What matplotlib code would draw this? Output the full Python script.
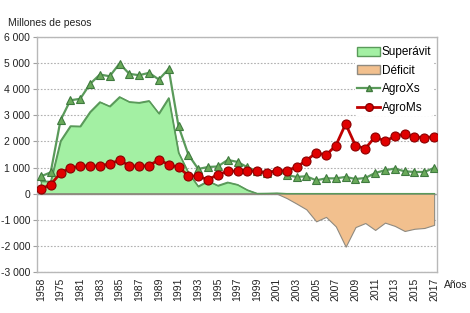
import matplotlib
matplotlib.use("Agg")
import matplotlib.pyplot as plt
import numpy as np
from matplotlib.patches import Patch
from matplotlib.lines import Line2D

years = [1958, 1970, 1975, 1980] + list(range(1981, 2018))
agro_xs = [660, 815, 2810, 3575, 3630, 4200, 4560, 4495, 4980, 4585, 4535, 4625, 4370, 4775,
           2580, 1495, 945, 1020, 1040, 1290, 1215, 1010, 860, 800, 900, 710, 640, 665, 510,
           585, 585, 640, 560, 600, 790, 895, 960, 855, 830, 830, 985]
agro_ms = [180, 345, 790, 985, 1050, 1070, 1050, 1150, 1275, 1070, 1050, 1070, 1300, 1110,
           1010, 690, 665, 535, 730, 855, 870, 870, 855, 790, 880, 880, 1020, 1265, 1570,
           1475, 1840, 2670, 1840, 1725, 2180, 2005, 2195, 2285, 2175, 2145, 2180]
balance = [480, 470, 2020, 2590, 2580, 3130, 3510, 3345, 3705, 3515, 3485, 3555, 3070, 3665,
           1570, 805, 280, 485, 310, 435, 345, 140, 5, 10, 20, -170, -380, -600, -1060,
           -890, -1255, -2030, -1280, -1125, -1390, -1110, -1235, -1430, -1345, -1315, -1195]
y_ticks = [6000, 5000, 4000, 3000, 2000, 1000, 0, -1000, -2000, -3000]

plt.rcParams['font.family'] = ['Liberation Sans', 'DejaVu Sans']

x = np.arange(len(years))
bal = np.array(balance, dtype=float)
sup = np.clip(bal, 0, None)
def_ = np.clip(bal, None, 0)

fig = plt.figure(figsize=(4.7, 3.13), dpi=100)
ax = fig.add_axes([0.079, 0.131, 0.851, 0.751])

ax.fill_between(x, 0, sup, facecolor='#a3f0a3', edgecolor='#5a9a5a', linewidth=1.0, zorder=2)
ax.fill_between(x, 0, def_, facecolor='#f2c08e', edgecolor='#8f8a80', linewidth=0.8, zorder=2)
ax.plot(x, sup, color='#5a9a5a', lw=1.0, zorder=2.5)

ax.plot(x, agro_xs, color='#5a9a5a', lw=1.6, marker='^', markersize=6,
        markerfacecolor='#6aaa5a', markeredgecolor='#3f7a3f', markeredgewidth=0.8, zorder=3)
ax.plot(x, agro_ms, color='#c00000', lw=2.0, marker='o', markersize=6.5,
        markerfacecolor='#e00000', markeredgecolor='#8b0000', markeredgewidth=0.8, zorder=4)

ax.axhline(0, color='#a0a0a0', lw=1.0, zorder=1.5)
ax.set_ylim(-3000, 6000)
ax.set_xlim(-0.38, 40.3)
ax.set_yticks(y_ticks)
ax.set_yticklabels([f"{v:,}".replace(",", " ") for v in y_ticks], fontsize=7.5, color='#222222')
ax.yaxis.grid(True, linestyle=(0, (1.5, 1.5)), color='#b0b0b0', lw=0.8, zorder=0)
ax.set_axisbelow(True)

ax.set_xticks(x[::2])
ax.set_xticklabels([str(years[i]) for i in range(0, len(years), 2)], rotation=90,
                   fontsize=7.5, color='#222222')
ax.tick_params(axis='x', length=0, pad=4)
ax.tick_params(axis='y', length=3, color='#a0a0a0', pad=2)
for s in ax.spines.values():
    s.set_color('#b8b8b8')
    s.set_linewidth(1.0)

handles = [Patch(facecolor='#a3f0a3', edgecolor='#5a9a5a', label='Superávit'),
           Patch(facecolor='#f2c08e', edgecolor='#8f8a80', label='Déficit'),
           Line2D([], [], color='#5a9a5a', lw=1.6, marker='^', markersize=5,
                  markerfacecolor='#6aaa5a', markeredgecolor='#3f7a3f', label='AgroXs'),
           Line2D([], [], color='#c00000', lw=2.0, marker='o', markersize=5.5,
                  markerfacecolor='#e00000', markeredgecolor='#8b0000', label='AgroMs')]
leg = ax.legend(handles=handles, loc='upper left', bbox_to_anchor=(0.795, 0.97),
                frameon=True, fontsize=8.5, handlelength=1.9, handleheight=0.8,
                handletextpad=0.15, labelspacing=0.55, borderpad=0.2, borderaxespad=0)
leg.get_frame().set_edgecolor('none')
leg.get_frame().set_facecolor('white')
leg.get_frame().set_alpha(1)

fig.text(8 / 470, 1 - 23 / 313, 'Millones de pesos', fontsize=7.5, color='#222222', va='center')
fig.text(444 / 470, 1 - 285 / 313, 'Años', fontsize=7.5, color='#222222', va='center')

fig.savefig('out.png', dpi=100)
